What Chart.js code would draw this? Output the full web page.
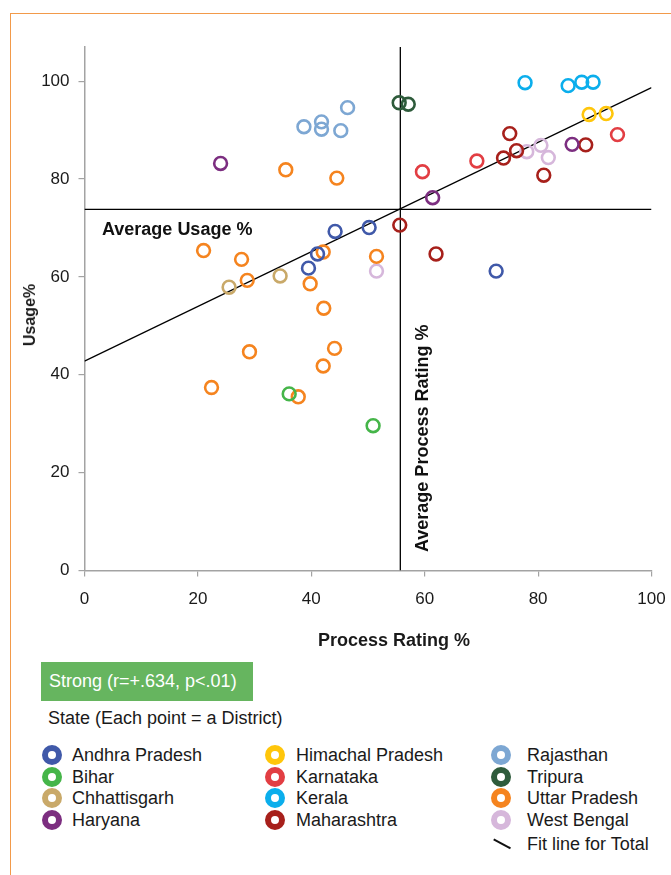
<!DOCTYPE html>
<html>
<head>
<meta charset="utf-8">
<script src="https://cdn.jsdelivr.net/npm/chart.js@4/dist/chart.umd.min.js"></script>
<style>
  html, body { margin: 0; padding: 0; background: #fff; }
  body { width: 671px; height: 875px; overflow: hidden; position: relative;
         font-family: "Liberation Sans", Arial, Helvetica, sans-serif; color: #1a1a1a; }
  #frame { position: absolute; left: 10px; top: 13px; width: 700px; height: 900px;
           border-left: 1.5px solid #F29A4A; border-top: 1.5px solid #F29A4A; }
  #plot { position: absolute; left: 0; top: 0; }
  .t { position: absolute; white-space: nowrap; }
  .axis-title { font-weight: bold; font-size: 18px; transform: translate(-50%, -50%); }
  #ytitle { font-size: 16px; transform: translate(-50%, -50%) rotate(-90deg); }
  #badge { position: absolute; left: 41px; top: 662px; width: 212px; height: 39px;
           background: #66B55F; color: #fff; font-size: 18px; line-height: 39px;
           padding-left: 8px; box-sizing: border-box; white-space: nowrap; }
  #subtitle { left: 48px; top: 707px; font-size: 18px; line-height: 22px; }
  .swatch { position: absolute; width: 20px; height: 20px; border-radius: 50%;
            box-sizing: border-box; border: 6.5px solid; transform: translate(-50%, -50%); }
  .ltext { position: absolute; font-size: 18px; line-height: 22px; transform: translateY(-50%); white-space: nowrap; }
  #fitmark { position: absolute; width: 19px; height: 2.4px; background: #111;
             transform: translate(-50%, -50%) rotate(28deg); }
</style>
</head>
<body>
<div id="frame"></div>
<canvas id="plot" width="671" height="660"></canvas>
<div class="t axis-title" id="ytitle" style="left:30px; top:315px;">Usage%</div>
<div class="t axis-title" id="xtitle" style="left:394px; top:640px;">Process Rating %</div>
<div id="badge">Strong (r=+.634, p&lt;.01)</div>
<div class="t" id="subtitle">State (Each point = a District)</div>
<div id="legend"></div>

<script>
// Districts per state: [process rating %, usage %]
const andhraPradesh = [[44.2, 69.3], [50.2, 70.1], [41.1, 64.7], [39.5, 61.8], [72.6, 61.2]];
const bihar = [[36.1, 36.1], [50.9, 29.6]];
const chhattisgarh = [[25.5, 57.9], [34.5, 60.2]];
const haryana = [[24.0, 83.2], [61.4, 76.2], [86.0, 87.1]];
const himachalPradesh = [[89.0, 93.2], [92.0, 93.4]];
const karnataka = [[94.0, 89.1], [69.2, 83.7], [59.6, 81.5]];
const kerala = [[77.7, 99.7], [85.3, 99.1], [87.7, 99.8], [89.7, 99.8]];
const maharashtra = [[75.0, 89.3], [73.9, 84.3], [76.2, 85.8], [88.4, 87.0], [81.0, 80.8], [55.6, 70.6], [62.0, 64.7]];
const rajasthan = [[38.7, 90.7], [41.8, 91.7], [41.8, 90.2], [45.2, 89.9], [46.4, 94.6]];
const tripura = [[55.5, 95.6], [57.1, 95.3]];
const uttarPradesh = [[35.5, 81.9], [44.5, 80.2], [21.0, 65.4], [27.7, 63.6], [42.1, 65.1], [28.7, 59.3],
                      [39.8, 58.6], [51.5, 64.2], [42.2, 53.6], [29.1, 44.7], [44.1, 45.4], [42.1, 41.8],
                      [22.4, 37.4], [37.7, 35.5]];
const westBengal = [[51.5, 61.2], [78.0, 85.6], [80.5, 86.9], [81.8, 84.4]];

const stateNames = ['Andhra Pradesh', 'Bihar', 'Chhattisgarh', 'Haryana', 'Himachal Pradesh', 'Karnataka',
                    'Kerala', 'Maharashtra', 'Rajasthan', 'Tripura', 'Uttar Pradesh', 'West Bengal'];
const stateData = [andhraPradesh, bihar, chhattisgarh, haryana, himachalPradesh, karnataka,
                   kerala, maharashtra, rajasthan, tripura, uttarPradesh, westBengal];
const stateColors = ['#4059A9', '#45B549', '#C9A969', '#7C2E80', '#FFC60B', '#E23E43',
                     '#0BAEEC', '#A7201B', '#7DA7D3', '#2E5B3B', '#F5841F', '#D6B7DB'];

// Reference lines
const averageUsage = 73.8;
const averageProcess = 55.7;
const fitLine = [[0, 42.8], [100, 98.7]];

const xTicks = [0, 20, 40, 60, 80, 100];
const yTicks = [0, 20, 40, 60, 80, 100];

const FONT = '"Liberation Sans", Arial, Helvetica, sans-serif';
const toXY = arr => arr.map(([x, y]) => ({ x, y }));

const datasets = [];
stateNames.forEach((name, i) => {
  datasets.push({
    label: name,
    type: 'scatter',
    data: toXY(stateData[i]),
    pointStyle: 'circle',
    pointRadius: 6.4,
    pointHoverRadius: 6.4,
    pointBorderWidth: 2.6,
    pointBackgroundColor: 'rgba(0,0,0,0)',
    pointBorderColor: stateColors[i],
    order: 1
  });
});

const lineStyle = { type: 'line', showLine: true, fill: false, pointRadius: 0, pointHoverRadius: 0,
                    borderColor: '#000', tension: 0, order: 2 };
datasets.push(Object.assign({}, lineStyle, { label: 'Fit line for Total', data: toXY(fitLine), borderWidth: 1.2 }));
datasets.push(Object.assign({}, lineStyle, { label: 'Average Usage %', borderWidth: 1.3,
  data: [{ x: 0, y: averageUsage }, { x: 100, y: averageUsage }] }));
datasets.push(Object.assign({}, lineStyle, { label: 'Average Process Rating %', borderWidth: 1.3,
  data: [{ x: averageProcess, y: 0 }, { x: averageProcess, y: 107 }] }));

// Text labels next to the two average lines
const averageLabels = {
  id: 'averageLabels',
  afterDatasetsDraw(chart) {
    const { ctx, scales: { x, y } } = chart;
    ctx.save();
    ctx.fillStyle = '#111';
    ctx.font = 'bold 18px ' + FONT;
    ctx.textBaseline = 'alphabetic';
    ctx.textAlign = 'left';
    ctx.fillText('Average Usage %', x.getPixelForValue(0) + 17.5, y.getPixelForValue(averageUsage) + 26);
    ctx.translate(x.getPixelForValue(averageProcess) + 27.5, y.getPixelForValue(0) - 18.5);
    ctx.rotate(-Math.PI / 2);
    ctx.fillText('Average Process Rating %', 0, 0);
    ctx.restore();
  }
};

const axisGray = '#a3a3a3';
new Chart(document.getElementById('plot'), {
  type: 'scatter',
  data: { datasets },
  plugins: [averageLabels],
  options: {
    responsive: false,
    animation: false,
    devicePixelRatio: 1,
    layout: { padding: { left: 0, right: 19.5, top: 47, bottom: 0 } },
    plugins: { legend: { display: false }, tooltip: { enabled: false } },
    events: [],
    scales: {
      x: {
        type: 'linear', min: 0, max: 100,
        afterBuildTicks: s => { s.ticks = xTicks.map(v => ({ value: v })); },
        afterFit: s => { s.height = 89.5; s.paddingLeft = 0; s.paddingRight = 0; },
        ticks: { font: { size: 17, family: FONT }, color: '#1a1a1a', padding: 13 },
        grid: { drawOnChartArea: false, color: axisGray, tickLength: 6, lineWidth: 1.2 },
        border: { color: axisGray, width: 1.5 }
      },
      y: {
        type: 'linear', min: 0, max: 107,
        afterBuildTicks: s => { s.ticks = yTicks.map(v => ({ value: v })); },
        afterFit: s => { s.width = 84.5; s.paddingTop = 0; s.paddingBottom = 0; },
        ticks: { font: { size: 17, family: FONT }, color: '#1a1a1a', padding: 9 },
        grid: { drawOnChartArea: false, color: axisGray, tickLength: 6, lineWidth: 1.2 },
        border: { color: axisGray, width: 1.5 }
      }
    }
  }
});

// Legend: three columns of four states, then the fit line entry
const legend = document.getElementById('legend');
const colMarkX = [52, 275, 501];
const colTextX = [72, 296, 527];
const rowY = [755, 777, 798, 819.5];
stateNames.forEach((name, i) => {
  const c = Math.floor(i / 4), r = i % 4;
  const sw = document.createElement('div');
  sw.className = 'swatch';
  sw.style.left = colMarkX[c] + 'px';
  sw.style.top = rowY[r] + 'px';
  sw.style.borderColor = stateColors[i];
  legend.appendChild(sw);
  const tx = document.createElement('div');
  tx.className = 'ltext';
  tx.style.left = colTextX[c] + 'px';
  tx.style.top = rowY[r] + 'px';
  tx.textContent = name;
  legend.appendChild(tx);
});
const fm = document.createElement('div');
fm.id = 'fitmark';
fm.style.left = '502px';
fm.style.top = '843.5px';
legend.appendChild(fm);
const ft = document.createElement('div');
ft.className = 'ltext';
ft.style.left = colTextX[2] + 'px';
ft.style.top = '843.5px';
ft.textContent = 'Fit line for Total';
legend.appendChild(ft);
</script>
</body>
</html>
